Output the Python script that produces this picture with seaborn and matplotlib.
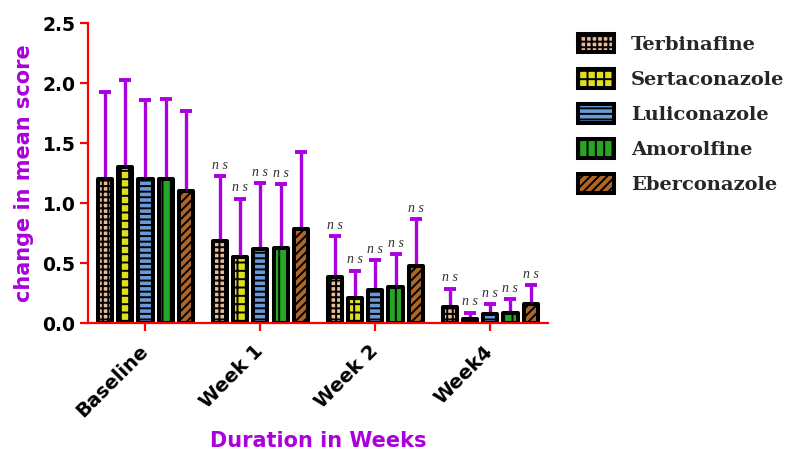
import numpy as np
import pandas as pd
import matplotlib
matplotlib.use("Agg")
import matplotlib.pyplot as plt
import seaborn as sns

# values
weeks = ["Baseline", "Week 1", "Week 2", "Week4"]
drugs = ["Terbinafine", "Sertaconazole", "Luliconazole", "Amorolfine", "Eberconazole"]

terbinafine = [1.20, 0.69, 0.39, 0.14]
sertaconazole = [1.30, 0.55, 0.21, 0.04]
luliconazole = [1.20, 0.62, 0.28, 0.08]
amorolfine = [1.20, 0.63, 0.30, 0.09]
eberconazole = [1.10, 0.79, 0.48, 0.16]

# upper error (SD)
terbinafine_sd = [0.73, 0.54, 0.34, 0.15]
sertaconazole_sd = [0.73, 0.49, 0.23, 0.05]
luliconazole_sd = [0.66, 0.55, 0.25, 0.08]
amorolfine_sd = [0.67, 0.53, 0.28, 0.11]
eberconazole_sd = [0.67, 0.64, 0.39, 0.16]

# "ns" marks (1 = shown)
terbinafine_ns = [0, 1, 1, 1]
sertaconazole_ns = [0, 1, 1, 1]
luliconazole_ns = [0, 1, 1, 1]
amorolfine_ns = [0, 1, 1, 1]
eberconazole_ns = [0, 0, 1, 1]

means = [terbinafine, sertaconazole, luliconazole, amorolfine, eberconazole]
sds = [terbinafine_sd, sertaconazole_sd, luliconazole_sd, amorolfine_sd, eberconazole_sd]
ns_marks = [terbinafine_ns, sertaconazole_ns, luliconazole_ns, amorolfine_ns, eberconazole_ns]

colors = ["#f8b887", "#ffff00", "#5599e8", "#10bb10", "#c5650f"]
hatches = ["+++", "++", "---", "||", "////"]

rows = []
for d, vals in zip(drugs, means):
    for w, v in zip(weeks, vals):
        rows.append({"week": w, "drug": d, "score": v})
df = pd.DataFrame(rows)

sns.set_style("white")
plt.rcParams["hatch.linewidth"] = 1.4

purple = "#aa00dd"
red = "#ff0000"

fig = plt.figure(figsize=(7.88, 4.51), dpi=100)
ax = fig.add_axes([0.1117, 0.283, 0.5833, 0.665])

sns.barplot(data=df, x="week", y="score", hue="drug", hue_order=drugs,
            palette=colors, width=0.88, gap=0.3, errorbar=None,
            edgecolor="black", linewidth=2.9, ax=ax)

for cont, h, sd, ns in zip(ax.containers, hatches, sds, ns_marks):
    xs, ys = [], []
    for bar in cont:
        bar.set_hatch(h)
        bar.set_joinstyle("round")
        xs.append(bar.get_x() + bar.get_width() / 2)
        ys.append(bar.get_height())
    ax.errorbar(xs, ys, yerr=[np.zeros(len(sd)), sd], fmt="none", ecolor=purple,
                elinewidth=2.4, capsize=4, capthick=2.8, zorder=0.9)
    for x, y, s, flag in zip(xs, ys, sd, ns):
        if flag:
            ax.annotate("n s", (x, y + s), xytext=(0, 3), textcoords="offset points",
                        ha="center", va="bottom", fontsize=10, style="italic",
                        family="Liberation Serif", color="#333333")

ax.set_ylim(0, 2.5)
ax.set_xlim(-0.5, 3.5)
ax.set_yticks([0, 0.5, 1.0, 1.5, 2.0, 2.5])
ax.set_yticklabels(["0.0", "0.5", "1.0", "1.5", "2.0", "2.5"])

sns.despine(ax=ax)
for side in ["left", "bottom"]:
    ax.spines[side].set_color(red)
    ax.spines[side].set_linewidth(1.6)
ax.tick_params(axis="both", bottom=True, left=True, colors=red, width=1.6,
               length=6, direction="out", labelcolor="black")
ax.tick_params(axis="y", labelsize=13.5, pad=3)
ax.tick_params(axis="x", labelsize=14, pad=12)
for lbl in ax.get_yticklabels():
    lbl.set_fontweight("bold")
    lbl.set_family("DejaVu Sans")
for lbl in ax.get_xticklabels():
    lbl.set_fontweight("bold")
    lbl.set_family("DejaVu Sans")
    lbl.set_rotation(45)
    lbl.set_ha("right")
    lbl.set_va("center")
    lbl.set_rotation_mode("anchor")

ax.set_ylabel("change in mean score", fontsize=15, fontweight="bold",
              color=purple, family="DejaVu Sans", labelpad=6)
ax.set_xlabel("Duration in Weeks", fontsize=15, fontweight="bold",
              color=purple, family="DejaVu Sans", labelpad=7)

ax.legend(handles=ax.containers, labels=drugs, loc="upper left",
          bbox_to_anchor=(0.733, 0.925), bbox_transform=fig.transFigure,
          frameon=False, borderpad=0, borderaxespad=0,
          handlelength=1.85, handleheight=1.1, handletextpad=0.9,
          labelspacing=0.78,
          prop={"family": "DejaVu Serif", "weight": "bold", "size": 14})

fig.savefig("out.png", dpi=100)
